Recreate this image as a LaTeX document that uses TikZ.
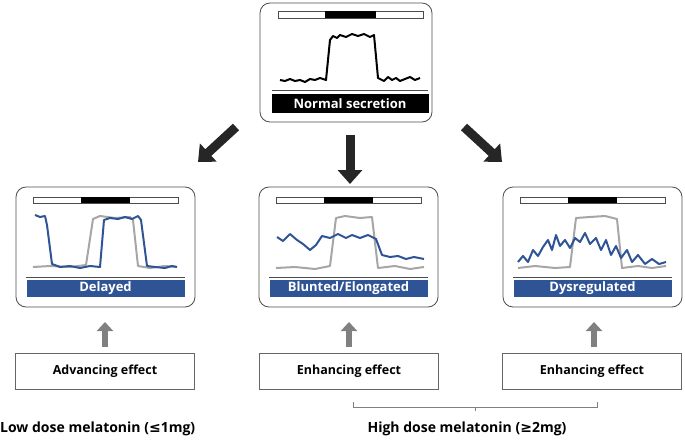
\documentclass[tikz,border=0pt]{standalone}
\usepackage{fontspec}
\setmainfont{Open Sans}
\newfontfamily\symf{DejaVu Sans}
\usetikzlibrary{arrows.meta,decorations.pathreplacing}
\definecolor{blu}{RGB}{47,84,150}
\begin{document}
\begin{tikzpicture}[x=1pt,y=-1pt,
 panel/.style={draw=black!70,rounded corners=10pt,line width=0.8pt},
 ebox/.style={draw=black!60,line width=0.6pt,minimum width=179pt,minimum height=36pt,font=\bfseries\fontsize{12.5}{14}\selectfont},
 bigarr/.style={line width=9pt,-{Triangle[length=14pt,width=24pt]},black!85},
 uparr/.style={line width=6pt,-{Triangle[length=9pt,width=16pt]},black!50},
 gcurve/.style={black!35,line width=2pt,line join=round},
 bcurve/.style={blu,line width=2pt,line join=round},
 lab/.style={font=\bfseries\fontsize{13}{14}\selectfont,text=white,inner sep=0pt}]
\useasboundingbox (0,0) rectangle (685,441);
% top panel
\draw[panel] (260,3) rectangle (432,122);
\draw[black!70] (278,11) rectangle (423,18);
\fill (325,11) rectangle (376,18);
\draw[line width=2pt,line join=round] (280,80) -- (285,81) -- (290,79) -- (295,81) -- (300,80) -- (305,82) -- (310,79) -- (315,80) -- (320,78) -- (326,80) -- (330,40) -- (333,36) -- (337,38) -- (340,35) -- (346,37) -- (352,34) -- (358,36) -- (364,34) -- (370,37) -- (374,35) -- (378,78) -- (384,81) -- (388,77) -- (392,80) -- (396,78) -- (400,81) -- (405,79) -- (410,77) -- (415,80) -- (420,78);
\draw[black!70] (272,90) -- (428,90);
\node[fill=black,minimum width=157pt,minimum height=19pt,lab] (ns) at (350,103.5) {Normal secretion};
% big arrows
\coordinate (la0) at (236,127); \coordinate (la1) at (198,162);
\coordinate (ma0) at (350,135); \coordinate (ma1) at (350,184);
\coordinate (ra0) at (464,127); \coordinate (ra1) at (502,162);
\draw[bigarr] (la0) -- (la1);
\draw[bigarr] (ma0) -- (ma1);
\draw[bigarr] (ra0) -- (ra1);
% lower panels
\foreach \x/\t in {16/Delayed,259/Blunted\slash Elongated,503/Dysregulated}{
 \draw[panel] (\x,187) rectangle ++(179,120);
 \draw[black!70] (\x+17,197) rectangle ++(145,6);
 \fill (\x+65,197) rectangle ++(49,6);
 \draw[black!70] (\x+10,277) -- ++(159,0);
 \node[fill=blu,minimum width=158pt,minimum height=17pt,lab] at (\x+89.5,288.5) {\t};
}
% left curves
\draw[gcurve] (33,267) -- (50,266) -- (70,267) -- (86,265) -- (93,219) -- (100,216) -- (115,218) -- (130,217) -- (133,220) -- (138,266) -- (150,268) -- (165,266) -- (177,267);
\draw[bcurve] (35,215) -- (40,217) -- (45,216) -- (47,225) -- (52,264) -- (60,267) -- (70,266) -- (80,268) -- (90,266) -- (100,267) -- (104,220) -- (110,218) -- (118,219) -- (125,217) -- (132,219) -- (138,216) -- (141,220) -- (147,266) -- (155,267) -- (165,268) -- (172,266) -- (177,267);
% middle curves
\draw[gcurve] (276,268) -- (295,267) -- (315,269) -- (330,266) -- (336,218) -- (345,216) -- (360,218) -- (372,217) -- (378,268) -- (395,266) -- (410,269) -- (424,267);
\draw[bcurve] (277,237) -- (283,241) -- (290,234) -- (297,240) -- (303,244) -- (310,250) -- (316,245) -- (322,236) -- (330,238) -- (338,234) -- (346,238) -- (352,235) -- (360,238) -- (368,235) -- (376,239) -- (382,255) -- (390,257) -- (398,256) -- (406,259) -- (414,257) -- (424,259);
% right curves
\draw[gcurve] (518,268) -- (535,266) -- (555,268) -- (570,267) -- (576,218) -- (590,217) -- (605,216) -- (617,219) -- (622,268) -- (638,266) -- (652,268) -- (666,266);
\draw[bcurve] (518,262) -- (523,256) -- (528,262) -- (533,250) -- (538,256) -- (543,247) -- (548,240) -- (552,250) -- (556,235) -- (560,246) -- (565,240) -- (570,248) -- (575,238) -- (580,242) -- (585,233) -- (590,244) -- (596,238) -- (601,250) -- (606,240) -- (611,255) -- (616,246) -- (621,258) -- (627,250) -- (632,262) -- (638,255) -- (645,264) -- (652,259) -- (659,264) -- (666,262);
% effect boxes
\node[ebox] (e1) at (105,371) {Advancing effect};
\node[ebox] (e2) at (349,371) {Enhancing effect};
\node[ebox] (e3) at (592,371) {Enhancing effect};
\foreach \x in {105,349,594}{\draw[uparr] (\x,347) -- (\x,322);}
% bottom labels
\node[font=\bfseries\fontsize{14}{16}\selectfont,anchor=west,inner sep=0pt] (low) at (0,429) {Low dose melatonin ({\symf ≤}1mg)};
\node[font=\bfseries\fontsize{14}{16}\selectfont,inner sep=0pt] (high) at (467,429) {High dose melatonin ({\symf ≥}2mg)};
\draw[black!50] (353,402) -- (353,407) -- (597,407) -- (597,402);
\draw[black!50] (475,407) -- (475,411);
\end{tikzpicture}
\end{document}
